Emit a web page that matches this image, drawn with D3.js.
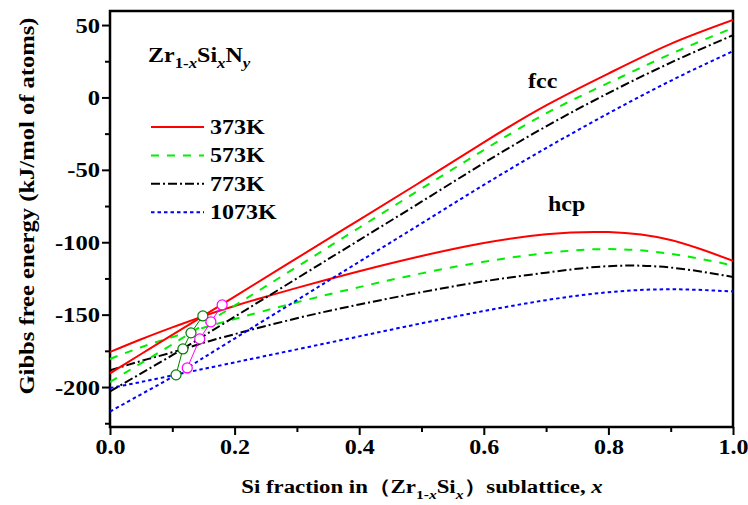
<!DOCTYPE html>
<html><head><meta charset="utf-8">
<script src="https://cdn.jsdelivr.net/npm/d3@7"></script>
<style>body{margin:0;background:#fff}svg{display:block}text{font-family:"Liberation Serif","Times New Roman",serif;font-weight:bold}</style>
</head><body><svg id="c" width="748" height="505"></svg>
<script>
const xs = [0, 0.05, 0.1, 0.15, 0.2, 0.3, 0.4, 0.5, 0.6, 0.7, 0.8, 0.9, 1.0];
const temps = ["373K", "573K", "773K", "1073K"];
const fcc373 = [-190.5, -177.2, -164, -150.8, -137.5, -111, -84.5, -58, -31, -5.5, 16.5, 37, 53.5];
const fcc573 = [-196.5, -183.5, -170.5, -157, -143.8, -117, -90, -63, -36.3, -11, 10, 30, 48];
const fcc773 = [-203, -190.5, -178, -164.8, -151.5, -125, -98.5, -72, -45.3, -20, 3, 24, 43];
const fcc1073 = [-217, -205, -193, -179.8, -166.5, -140, -113.5, -87, -60.4, -35, -11, 11.5, 32];
const hcp373 = [-175.8, -167, -158.8, -151, -144, -131.5, -120, -109.5, -100.5, -94.5, -93, -98.5, -112.9];
const hcp573 = [-180.6, -172.5, -165.5, -159, -153, -141.5, -131, -121.5, -113.5, -107.5, -104.7, -108, -116];
const hcp773 = [-188.5, -182, -176, -169.5, -163.5, -152.5, -143, -134.5, -127, -121, -116.5, -117.5, -124];
const hcp1073 = [-200.7, -196.5, -192, -187.5, -183, -174, -165, -156, -147.5, -140, -134.5, -132.5, -134];
const crossX = [0.149, 0.130, 0.117, 0.106];
const crossG = [-150.9, -162.6, -173.7, -191.6];
const tanX = [0.180, 0.162, 0.144, 0.124];
const tanG = [-143.3, -155.0, -166.8, -186.8];
const xTicks = [0, 0.2, 0.4, 0.6, 0.8, 1.0];
const xMinor = [0.1, 0.3, 0.5, 0.7, 0.9];
const yTicks = [-200, -150, -100, -50, 0, 50];
const yMinor = [-225, -175, -125, -75, -25, 25];

const colors = ["#ff0000", "#00ee00", "#000000", "#0000ff"];
const dashes = [null, "8,8", "9,3,2,3", "3.5,3"];
const fccS = [fcc373, fcc573, fcc773, fcc1073];
const hcpS = [hcp373, hcp573, hcp773, hcp1073];

const svg = d3.select("#c");
const L = 110, R = 733, T = 11, B = 427;
const x = d3.scaleLinear().domain([0, 1]).range([L, R]);
const y = d3.scaleLinear().domain([-227.6, 59.7]).range([B, T]);
const SX = 1.2;

// axes
const gx = svg.append("g").attr("transform", `translate(0,${B})`)
  .call(d3.axisBottom(x).tickValues(xTicks).tickSize(8).tickFormat(d3.format(".1f")));
const gxm = svg.append("g").attr("transform", `translate(0,${B})`)
  .call(d3.axisBottom(x).tickValues(xMinor).tickSize(5).tickFormat(""));
const gy = svg.append("g").attr("transform", `translate(${L},0)`)
  .call(d3.axisLeft(y).tickValues(yTicks).tickSize(8).tickFormat(d3.format("d")));
const gym = svg.append("g").attr("transform", `translate(${L},0)`)
  .call(d3.axisLeft(y).tickValues(yMinor).tickSize(5).tickFormat(""));
[gx, gxm, gy, gym].forEach(g => { g.select(".domain").remove(); g.selectAll("line").attr("stroke", "#000").attr("stroke-width", 2); });
gx.selectAll("text").attr("y", null).attr("dy", null).attr("fill", "#000")
  .attr("font-size", 20).attr("text-anchor", "middle").attr("transform", `translate(0,27) scale(${SX},1)`);
gy.selectAll("text").attr("x", null).attr("dy", null).attr("fill", "#000")
  .attr("font-size", 20.5).attr("text-anchor", "end").attr("transform", `translate(-10,7) scale(${SX},1)`)
  .text(d => d < 0 ? "-" + Math.abs(d) : d);

// frame
svg.append("rect").attr("x", L).attr("y", T).attr("width", R - L).attr("height", B - T)
  .attr("fill", "none").attr("stroke", "#000").attr("stroke-width", 2.5);

const clip = svg.append("clipPath").attr("id", "cp").append("rect").attr("x", L).attr("y", T).attr("width", R - L).attr("height", B - T);
const line = d3.line().x((d, i) => x(xs[i])).y(d => y(d)).curve(d3.curveNatural);
const plot = svg.append("g").attr("clip-path", "url(#cp)");
[hcpS, fccS].forEach(set => set.forEach((s, i) => {
  plot.append("path").attr("d", line(s)).attr("fill", "none").attr("stroke", colors[i])
    .attr("stroke-width", 2).attr("stroke-dasharray", dashes[i]);
}));

// crossing and tangent markers
const pl = d3.line().x(d => x(d[0])).y(d => y(d[1]));
const cpts = crossX.map((v, i) => [v, crossG[i]]);
const tpts = tanX.map((v, i) => [v, tanG[i]]);
plot.append("path").attr("d", pl(cpts)).attr("fill", "none").attr("stroke", "#008000").attr("stroke-width", 1);
plot.append("path").attr("d", pl(tpts)).attr("fill", "none").attr("stroke", "#ff00ff").attr("stroke-width", 1);
plot.selectAll("circle.c").data(cpts).join("circle").attr("cx", d => x(d[0])).attr("cy", d => y(d[1])).attr("r", 5)
  .attr("fill", "#fff").attr("stroke", "#008000").attr("stroke-width", 1.2);
plot.selectAll("circle.t").data(tpts).join("circle").attr("cx", d => x(d[0])).attr("cy", d => y(d[1])).attr("r", 5)
  .attr("fill", "#fff").attr("stroke", "#ff00ff").attr("stroke-width", 1.2);

function stext(px, py, size, anchor, rot) {
  return svg.append("text").attr("font-size", size).attr("text-anchor", anchor || "start")
    .attr("transform", `translate(${px},${py}) rotate(${rot || 0}) scale(${SX},1)`);
}

// legend
temps.forEach((t, i) => {
  const ly = 127 + i * 28.4;
  svg.append("line").attr("x1", 151).attr("x2", 204).attr("y1", ly).attr("y2", ly)
    .attr("stroke", colors[i]).attr("stroke-width", 2).attr("stroke-dasharray", dashes[i]);
  stext(210, ly + 7, 20).text(t);
});
// title
const tt = stext(148, 62, 20);
tt.append("tspan").text("Zr");
tt.append("tspan").attr("font-size", 14).attr("dy", 6).text("1-");
tt.append("tspan").attr("font-size", 14).attr("font-style", "italic").text("x");
tt.append("tspan").attr("dy", -6).text("Si");
tt.append("tspan").attr("font-size", 14).attr("font-style", "italic").attr("dy", 6).text("x");
tt.append("tspan").attr("dy", -6).text("N");
tt.append("tspan").attr("font-size", 14).attr("font-style", "italic").attr("dy", 6).text("y");

stext(528, 88, 20).text("fcc");
stext(548, 211, 20).text("hcp");

// axis titles
const xl = stext(422, 493, 19, "middle");
xl.append("tspan").text("Si fraction in（Zr");
xl.append("tspan").attr("font-size", 13).attr("dy", 6).text("1-");
xl.append("tspan").attr("font-size", 13).attr("font-style", "italic").text("x");
xl.append("tspan").attr("dy", -6).text("Si");
xl.append("tspan").attr("font-size", 13).attr("font-style", "italic").attr("dy", 6).text("x");
xl.append("tspan").attr("dy", -6).text("）sublattice, ");
xl.append("tspan").attr("font-style", "italic").text("x");

stext(34, 206, 20.5, "middle", -90).text("Gibbs free energy (kJ/mol of atoms)");
</script></body></html>
